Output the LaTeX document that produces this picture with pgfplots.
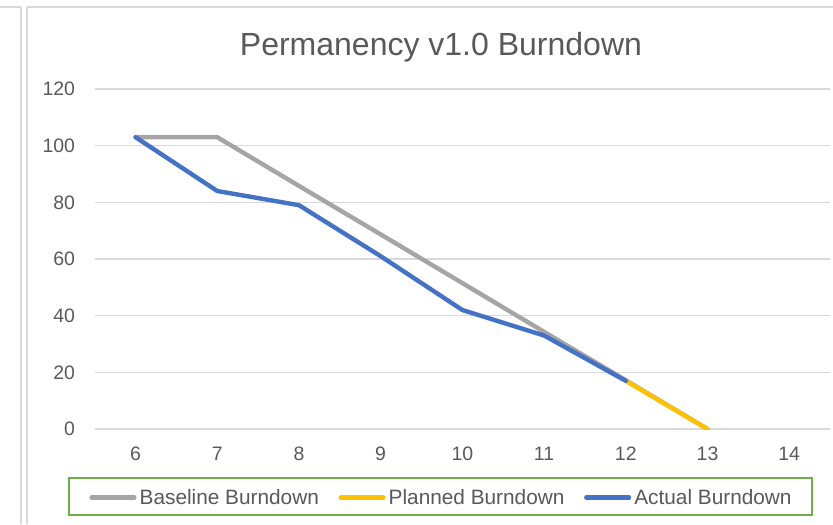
\documentclass[border=0pt]{standalone}
\usepackage{pgfplots}
\pgfplotsset{compat=1.18}
\usepackage{fontspec}
\setmainfont{Liberation Sans}
\definecolor{txt}{HTML}{595959}
\definecolor{gridc}{HTML}{D9D9D9}
\definecolor{cBase}{HTML}{A5A5A5}
\definecolor{cPlan}{HTML}{FFC000}
\definecolor{cAct}{HTML}{4472C4}
\definecolor{legb}{HTML}{70AD47}
\begin{document}
\begin{tikzpicture}
\begin{axis}[
  scale only axis,
  width=551.5pt, height=255pt,
  xmin=5.5, xmax=14.5, ymin=0, ymax=120,
  xtick={6,7,8,9,10,11,12,13,14},
  ytick={0,20,40,60,80,100,120},
  axis line style={draw=none},
  major tick length=0pt,
  tick style={draw=none},
  ymajorgrids,
  grid style={gridc, line width=1pt},
  /pgf/number format/assume math mode=true,
  ticklabel style={font=\fontsize{14.6pt}{16pt}\selectfont, text=txt},
  yticklabel style={anchor=east, inner sep=0pt, xshift=-14.5pt},
  xticklabel style={anchor=north, inner sep=0pt, yshift=-13.5pt},
  title={Permanency v1.0 Burndown},
  title style={at={(axis description cs:0.4709,1.0971)}, anchor=base, yshift=-6pt, inner sep=0pt, font=\fontsize{24pt}{28pt}\selectfont, text=txt},
  legend columns=3,
  legend image code/.code={\draw[#1, line cap=round] (1.6pt,-0.85pt) -- (33.6pt,-0.85pt);},
  legend style={at={(axis description cs:0.4703,-0.1985)}, anchor=center,
    draw=legb, line width=1.3pt, inner xsep=15.5pt, inner ysep=5pt,
    nodes={inner sep=0pt, text height=14.7pt, text depth=3pt, text=txt, font=\fontsize{15.6pt}{18pt}\selectfont},
    /tikz/every odd column/.append style={column sep=2.35pt},
    /tikz/every even column/.append style={column sep=14.7pt}},
]
\addplot[cBase, line width=3.3pt, line join=round, line cap=round] coordinates {
  (6,103) (7,103) (8,85.8) (9,68.7) (10,51.5) (11,34.3) (12,17.2) (13,0)};
\addlegendentry{Baseline Burndown}
\addplot[cPlan, line width=3.3pt, line join=round, line cap=round] coordinates {
  (12,17) (13,0)};
\addlegendentry{Planned Burndown}
\addplot[cAct, line width=3.3pt, line join=round, line cap=round] coordinates {
  (6,103) (7,84) (8,79) (9,61) (10,42) (11,33) (12,17)};
\addlegendentry{Actual Burndown}
\end{axis}
\draw[gridc, line width=1pt] (-55.3pt,316.5pt) -- (-55.3pt,-71.25pt);
\draw[gridc, line width=1pt] (-50.8pt,316.5pt) -- (-50.8pt,-71.25pt);
\draw[gridc, line width=1pt] (-71pt,316.5pt) -- (-55.3pt,316.5pt);
\draw[gridc, line width=1pt] (-50.8pt,316.5pt) -- (553.7pt,316.5pt);
\pgfresetboundingbox
\useasboundingbox (-71pt,-71.25pt) rectangle (553.7pt,321.75pt);
\end{tikzpicture}
\end{document}
